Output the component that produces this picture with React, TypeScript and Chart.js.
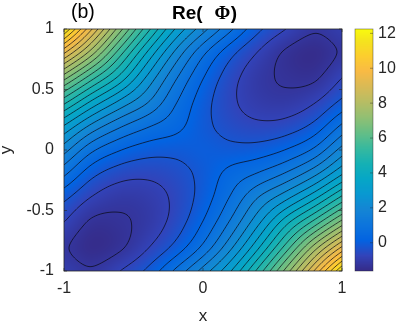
import React, { useEffect, useRef } from 'react';
import { Chart, registerables } from 'chart.js';

Chart.register(...registerables);

// ---- data ----
const xValues = [-1, -0.8, -0.6, -0.4, -0.2, 0, 0.2, 0.4, 0.6, 0.8, 1];
const yValues = [-1, -0.8, -0.6, -0.4, -0.2, 0, 0.2, 0.4, 0.6, 0.8, 1];
// zRows[j][i] = Re(Phi) at (xValues[i], yValues[j])
const zRows = [
  [-0.95, -1.18, -0.76, -0.14, 0.84, 1.95, 3.23, 4.95, 6.98, 9.28, 11.78],
  [-1.18, -1.52, -1.33, -0.8, -0.1, 0.86, 2.13, 3.67, 5.46, 7.42, 9.28],
  [-0.76, -1.33, -1.32, -1.08, -0.54, 0.28, 1.35, 2.66, 4.11, 5.46, 6.98],
  [-0.14, -0.8, -1.08, -1.0, -0.64, -0.02, 0.82, 1.8, 2.66, 3.67, 4.95],
  [0.84, -0.1, -0.54, -0.64, -0.47, -0.09, 0.43, 0.82, 1.35, 2.13, 3.23],
  [1.95, 0.86, 0.28, -0.02, -0.09, -0.02, -0.09, -0.02, 0.28, 0.86, 1.95],
  [3.23, 2.13, 1.35, 0.82, 0.43, -0.09, -0.47, -0.64, -0.54, -0.1, 0.84],
  [4.95, 3.67, 2.66, 1.8, 0.82, -0.02, -0.64, -1.0, -1.08, -0.8, -0.14],
  [6.98, 5.46, 4.11, 2.66, 1.35, 0.28, -0.54, -1.08, -1.32, -1.33, -0.76],
  [9.28, 7.42, 5.46, 3.67, 2.13, 0.86, -0.1, -0.8, -1.33, -1.52, -1.18],
  [11.78, 9.28, 6.98, 4.95, 3.23, 1.95, 0.84, -0.14, -0.76, -1.18, -0.95],
];
const contourLevels = [
  -1.25, -0.75, -0.25, 0.25, 0.75, 1.25, 1.75, 2.25, 2.75, 3.25, 3.75, 4.25, 4.75, 5.25,
  5.75, 6.25, 6.75, 7.25, 7.75, 8.25, 8.75, 9.25, 9.75, 10.25, 10.75, 11.25, 11.75,
];
const xTicks = [-1, 0, 1];
const yTicks = [-1, -0.5, 0, 0.5, 1];
const colorTicks = [0, 2, 4, 6, 8, 10, 12];
const colorMin = -1.62;
const colorMax = 12.25;
const titleRe = 'Re(';
const titleSymbol = 'Φ';
const titleEnd = ')';
const panelLabel = '(b)';
const xLabel = 'x';
const yLabel = 'y';

// parula colormap stops
const parula = [
  [0.2081, 0.1663, 0.5292], [0.1959, 0.2645, 0.7279], [0.0117, 0.3875, 0.882],
  [0.0498, 0.4586, 0.8641], [0.0793, 0.52, 0.8312], [0.0343, 0.5966, 0.8199],
  [0.0228, 0.6535, 0.7768], [0.0843, 0.6928, 0.7062], [0.2178, 0.725, 0.6193],
  [0.3953, 0.7459, 0.5244], [0.5709, 0.7485, 0.4494], [0.7184, 0.7411, 0.3905],
  [0.8507, 0.7299, 0.336], [0.9739, 0.7314, 0.2666], [0.988, 0.8066, 0.1794],
  [0.9589, 0.8949, 0.1132], [0.9763, 0.9831, 0.0538],
];
const parulaT = [0, 4, 8, 12, 16, 20, 24, 28, 32, 36, 40, 44, 48, 52, 56, 60, 63].map((k) => k / 63);

function colorFor(v: number): [number, number, number] {
  let t = (v - colorMin) / (colorMax - colorMin);
  t = Math.max(0, Math.min(1, t));
  let k = 0;
  while (k < parulaT.length - 2 && t > parulaT[k + 1]) k++;
  const f = (t - parulaT[k]) / (parulaT[k + 1] - parulaT[k]);
  const a = parula[k], b = parula[k + 1];
  return [0, 1, 2].map((c) => Math.round(255 * (a[c] + (b[c] - a[c]) * f))) as [number, number, number];
}

function gridVal(i: number, j: number): number {
  const nx = xValues.length, ny = yValues.length;
  if (i < 0) return 2 * gridVal(0, j) - gridVal(1, j);
  if (i > nx - 1) return 2 * gridVal(nx - 1, j) - gridVal(nx - 2, j);
  if (j < 0) return 2 * gridVal(i, 0) - gridVal(i, 1);
  if (j > ny - 1) return 2 * gridVal(i, ny - 1) - gridVal(i, ny - 2);
  return zRows[j][i];
}

function cr(p0: number, p1: number, p2: number, p3: number, t: number) {
  return p1 + 0.5 * t * (p2 - p0 + t * (2 * p0 - 5 * p1 + 4 * p2 - p3 + t * (3 * (p1 - p2) + p3 - p0)));
}

function sampleZ(xv: number, yv: number): number {
  const dx = xValues[1] - xValues[0];
  const dy = yValues[1] - yValues[0];
  let gx = (xv - xValues[0]) / dx;
  let gy = (yv - yValues[0]) / dy;
  gx = Math.max(0, Math.min(xValues.length - 1, gx));
  gy = Math.max(0, Math.min(yValues.length - 1, gy));
  let i = Math.floor(gx), j = Math.floor(gy);
  if (i >= xValues.length - 1) i = xValues.length - 2;
  if (j >= yValues.length - 1) j = yValues.length - 2;
  const tx = gx - i, ty = gy - j;
  const rows: number[] = [];
  for (let m = -1; m <= 2; m++) {
    rows.push(cr(gridVal(i - 1, j + m), gridVal(i, j + m), gridVal(i + 1, j + m), gridVal(i + 2, j + m), tx));
  }
  return cr(rows[0], rows[1], rows[2], rows[3], ty);
}

const SEG: Record<number, number[][]> = {
  1: [[3, 0]], 2: [[0, 1]], 3: [[3, 1]], 4: [[1, 2]], 5: [[3, 0], [1, 2]], 6: [[0, 2]],
  7: [[3, 2]], 8: [[2, 3]], 9: [[0, 2]], 10: [[0, 1], [2, 3]], 11: [[1, 2]], 12: [[1, 3]],
  13: [[0, 1]], 14: [[0, 3]],
};

const FONT = '"Liberation Sans", Arial, sans-serif';

const surfacePlugin = {
  id: 'surface',
  beforeDatasetsDraw(chart: any) {
    const { ctx, chartArea: a, scales } = chart;
    const sx = scales.x, sy = scales.y;
    const left = Math.round(a.left), top = Math.round(a.top);
    const w = Math.round(a.right - a.left), h = Math.round(a.bottom - a.top);
    const off = document.createElement('canvas');
    off.width = w; off.height = h;
    const octx = off.getContext('2d')!;
    const img = octx.createImageData(w, h);
    for (let py = 0; py < h; py++) {
      const yv = sy.getValueForPixel(top + py + 0.5);
      for (let px = 0; px < w; px++) {
        const xv = sx.getValueForPixel(left + px + 0.5);
        const [r, g, b] = colorFor(sampleZ(xv, yv));
        const k = (py * w + px) * 4;
        img.data[k] = r; img.data[k + 1] = g; img.data[k + 2] = b; img.data[k + 3] = 255;
      }
    }
    octx.putImageData(img, 0, 0);
    ctx.drawImage(off, left, top);

    // contour lines
    const W = w + 1;
    const F = new Float64Array((w + 1) * (h + 1));
    for (let j = 0; j <= h; j++) {
      const yv = sy.getValueForPixel(top + j);
      for (let i = 0; i <= w; i++) {
        F[j * W + i] = sampleZ(sx.getValueForPixel(left + i), yv);
      }
    }
    ctx.save();
    ctx.beginPath();
    ctx.rect(left, top, w, h);
    ctx.clip();
    ctx.strokeStyle = 'rgba(10,10,20,0.9)';
    ctx.lineWidth = 0.8;
    for (const L of contourLevels) {
      ctx.beginPath();
      for (let j = 0; j < h; j++) {
        for (let i = 0; i < w; i++) {
          const v0 = F[j * W + i], v1 = F[j * W + i + 1], v2 = F[(j + 1) * W + i + 1], v3 = F[(j + 1) * W + i];
          const idx = (v0 > L ? 1 : 0) | (v1 > L ? 2 : 0) | (v2 > L ? 4 : 0) | (v3 > L ? 8 : 0);
          if (idx === 0 || idx === 15) continue;
          const pt = (e: number): [number, number] => {
            if (e === 0) return [i + (L - v0) / (v1 - v0), j];
            if (e === 1) return [i + 1, j + (L - v1) / (v2 - v1)];
            if (e === 2) return [i + (L - v3) / (v2 - v3), j + 1];
            return [i, j + (L - v0) / (v3 - v0)];
          };
          for (const [e1, e2] of SEG[idx]) {
            const p1 = pt(e1), p2 = pt(e2);
            ctx.moveTo(left + p1[0], top + p1[1]);
            ctx.lineTo(left + p2[0], top + p2[1]);
          }
        }
      }
      ctx.stroke();
    }
    ctx.restore();
  },
  afterDraw(chart: any) {
    const { ctx, chartArea: a, scales } = chart;
    const sx = scales.x, sy = scales.y, sc = scales.c;
    ctx.save();
    // axes box
    ctx.strokeStyle = '#262626';
    ctx.lineWidth = 0.8;
    ctx.strokeRect(a.left, a.top, a.right - a.left, a.bottom - a.top);
    // inward ticks
    ctx.lineWidth = 0.6;
    ctx.beginPath();
    for (const v of xTicks) {
      const p = sx.getPixelForValue(v);
      ctx.moveTo(p, a.bottom); ctx.lineTo(p, a.bottom - 3);
      ctx.moveTo(p, a.top); ctx.lineTo(p, a.top + 3);
    }
    for (const v of yTicks) {
      const p = sy.getPixelForValue(v);
      ctx.moveTo(a.left, p); ctx.lineTo(a.left + 3, p);
      ctx.moveTo(a.right, p); ctx.lineTo(a.right - 3, p);
    }
    ctx.stroke();

    // colorbar
    const cbL = a.right + 13, cbW = 18;
    const cbT = Math.round(a.top), cbB = Math.round(a.bottom);
    for (let py = cbT; py < cbB; py++) {
      const v = sc.getValueForPixel(py + 0.5);
      const [r, g, b] = colorFor(v);
      ctx.fillStyle = `rgb(${r},${g},${b})`;
      ctx.fillRect(cbL, py, cbW, 1);
    }
    ctx.strokeStyle = 'rgba(38,38,38,0.7)';
    ctx.lineWidth = 0.6;
    ctx.strokeRect(cbL, a.top, cbW, a.bottom - a.top);
    ctx.beginPath();
    for (const v of colorTicks) {
      const p = sc.getPixelForValue(v);
      ctx.moveTo(cbL + cbW, p); ctx.lineTo(cbL + cbW - 3, p);
    }
    ctx.stroke();

    // texts
    ctx.fillStyle = '#000';
    ctx.textBaseline = 'alphabetic';
    ctx.textAlign = 'left';
    ctx.font = `19.5px ${FONT}`;
    ctx.fillText(panelLabel, 71, 17.5);

    ctx.font = `bold 19px ${FONT}`;
    ctx.fillText(titleRe, 172, 18.5);
    ctx.font = `bold 19px "Liberation Serif", serif`;
    ctx.fillText(titleSymbol, 214.5, 18.5);
    const wPhi = ctx.measureText(titleSymbol).width;
    ctx.font = `bold 19px ${FONT}`;
    ctx.fillText(titleEnd, 214.5 + wPhi + 0.5, 18.5);

    ctx.fillStyle = '#262626';
    ctx.font = `17px ${FONT}`;
    ctx.textAlign = 'center';
    ctx.fillText(xLabel, (a.left + a.right) / 2, 321);
    ctx.save();
    ctx.translate(10.8, (a.top + a.bottom) / 2);
    ctx.rotate(-Math.PI / 2);
    ctx.fillText(yLabel, 0, 0);
    ctx.restore();
    ctx.restore();
  },
};

const tickFont = { family: FONT, size: 16 };

export default function App() {
  const ref = useRef<HTMLCanvasElement>(null);
  useEffect(() => {
    document.body.style.margin = '0';
    const chart = new Chart(ref.current!, {
      type: 'scatter',
      data: { datasets: [{ data: [], pointRadius: 0 }] },
      options: {
        animation: false,
        responsive: false,
        devicePixelRatio: 1,
        layout: { padding: { top: 29, left: 0, right: 0, bottom: 0 } },
        plugins: { legend: { display: false }, tooltip: { enabled: false }, title: { display: false } },
        scales: {
          x: {
            type: 'linear', min: -1, max: 1,
            afterBuildTicks: (s: any) => { s.ticks = xTicks.map((v) => ({ value: v })); },
            afterFit: (s: any) => { s.height = 53; },
            grid: { display: false, drawTicks: false },
            border: { display: false },
            ticks: { padding: 8, font: tickFont, color: '#262626', callback: (v: any) => String(v) },
          },
          y: {
            type: 'linear', min: -1, max: 1,
            afterBuildTicks: (s: any) => { s.ticks = yTicks.map((v) => ({ value: v })); },
            afterFit: (s: any) => { s.width = 64; },
            grid: { display: false, drawTicks: false },
            border: { display: false },
            ticks: { padding: 10, font: tickFont, color: '#262626', callback: (v: any) => String(v) },
          },
          c: {
            type: 'linear', position: 'right', min: colorMin, max: colorMax,
            afterBuildTicks: (s: any) => { s.ticks = colorTicks.map((v) => ({ value: v })); },
            afterFit: (s: any) => { s.width = 57; },
            grid: { display: false, drawTicks: true, tickLength: 36 },
            border: { display: false },
            ticks: { padding: 0, font: tickFont, color: '#262626', callback: (v: any) => String(v) },
          },
        },
      } as any,
      plugins: [surfacePlugin],
    });
    return () => chart.destroy();
  }, []);
  return (
    <div style={{ width: 399, height: 324 }}>
      <canvas ref={ref} width={399} height={324} style={{ display: 'block', width: 399, height: 324 }} />
    </div>
  );
}
